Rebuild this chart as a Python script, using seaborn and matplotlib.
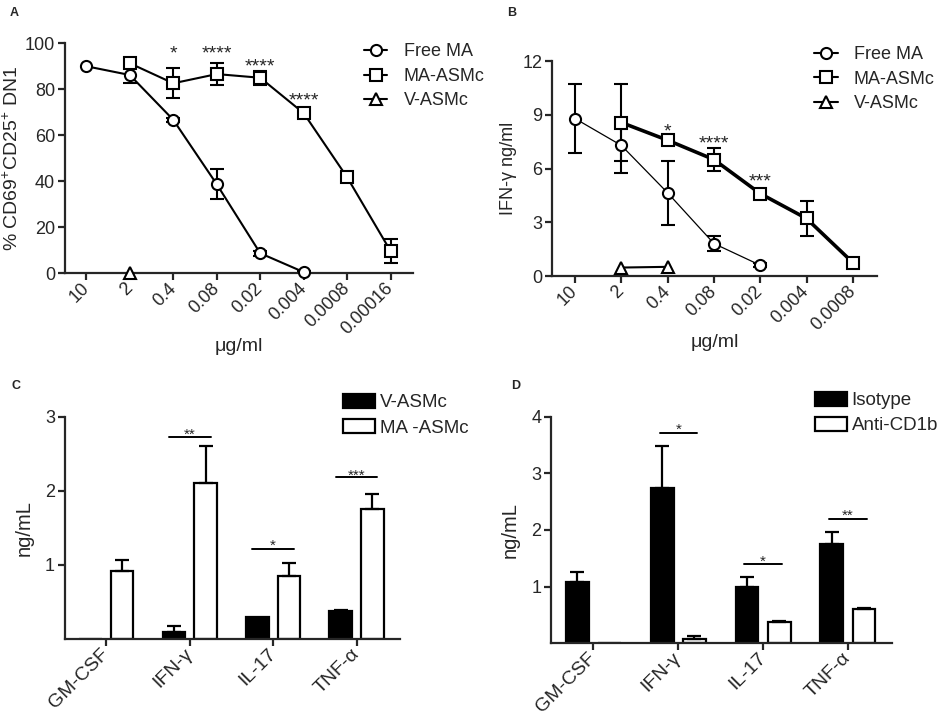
import numpy as np
import pandas as pd
import matplotlib
matplotlib.use("Agg")
import matplotlib.pyplot as plt
import seaborn as sns
from matplotlib.lines import Line2D
from matplotlib.patches import Patch

# ---- Panel A: % CD69+CD25+ DN1 vs dose ----
doses_a = ["10", "2", "0.4", "0.08", "0.02", "0.004", "0.0008", "0.00016"]
free_ma_a = [90.0, 86.2, 66.7, 38.7, 8.7, 0.5, np.nan, np.nan]
free_ma_a_err = [0, 3.5, 1.0, 6.5, 1.0, 0.5, 0, 0]
ma_asmc_a = [np.nan, 91.3, 82.6, 86.6, 85.0, 69.6, 41.7, 9.6]
ma_asmc_a_err = [0, 2.0, 6.5, 4.7, 3.0, 1.0, 0, 5.2]
v_asmc_a = [np.nan, 0.0, np.nan, np.nan, np.nan, np.nan, np.nan, np.nan]
stars_a = ["", "", "*", "****", "****", "****", "", ""]
star_y_a = [np.nan, np.nan, 98.5, 98.5, 93.0, 78.0, np.nan, np.nan]

# ---- Panel B: IFN-g vs dose ----
doses_b = ["10", "2", "0.4", "0.08", "0.02", "0.004", "0.0008"]
free_ma_b = [8.8, 7.3, 4.65, 1.82, 0.61, np.nan, np.nan]
free_ma_b_err = [1.95, 1.55, 1.77, 0.4, 0.12, 0, 0]
ma_asmc_b = [np.nan, 8.58, 7.59, 6.51, 4.61, 3.22, 0.76]
ma_asmc_b_err = [0, 2.15, 0.15, 0.62, 0.1, 0.98, 0.1]
v_asmc_b = [np.nan, 0.48, 0.52, np.nan, np.nan, np.nan, np.nan]
stars_b = ["", "", "*", "****", "***", "", ""]
star_y_b = [np.nan, np.nan, 8.43, 7.81, 5.64, np.nan, np.nan]

# ---- Panels C and D: cytokines ----
cytokines = ["GM-CSF", "IFN-γ", "IL-17", "TNF-α"]
v_asmc_c = [0.0, 0.09, 0.30, 0.37]
v_asmc_c_err = [0, 0.08, 0, 0.02]
ma_asmc_c = [0.91, 2.10, 0.85, 1.75]
ma_asmc_c_err = [0.15, 0.51, 0.18, 0.20]
sig_c = ["", "**", "*", "***"]
sig_line_c = [np.nan, 2.72, 1.21, 2.18]
sig_star_c = [np.nan, 2.83, 1.32, 2.27]

isotype_d = [1.08, 2.74, 1.00, 1.76]
isotype_d_err = [0.17, 0.74, 0.16, 0.20]
anti_cd1b_d = [0.0, 0.07, 0.38, 0.60]
anti_cd1b_d_err = [0, 0.05, 0.01, 0.02]
sig_d = ["", "*", "*", "**"]
sig_line_d = [np.nan, 3.72, 1.39, 2.20]
sig_star_d = [np.nan, 3.86, 1.53, 2.34]

sns.set_style("ticks")
plt.rcParams["font.family"] = ["Liberation Sans", "DejaVu Sans"]
plt.rcParams["mathtext.fontset"] = "custom"
plt.rcParams["mathtext.rm"] = "Liberation Sans"
plt.rcParams["font.size"] = 13

LW = 1.6
fig = plt.figure(figsize=(9.5, 7.21), dpi=100)


def style_axes(ax, xsize=13):
    sns.despine(ax=ax)
    for s in ["left", "bottom"]:
        ax.spines[s].set_linewidth(LW)
    ax.tick_params(direction="out", length=5, width=LW, labelsize=13, pad=2)
    ax.tick_params(axis="x", labelsize=xsize, pad=4)


def put_stars(ax, xs, ys, labels, fs):
    for x, y, s in zip(xs, ys, labels):
        if s:
            ax.annotate(s, xy=(x, y), xytext=(0, -0.6 * fs), textcoords="offset points",
                        ha="center", va="baseline", fontsize=fs)


def line_panel(ax, doses, series, widths, stars, star_y):
    pos = np.arange(len(doses))
    for name, (vals, errs, marker) in series.items():
        vals = np.array(vals, dtype=float)
        errs = np.array(errs, dtype=float)
        ok = ~np.isnan(vals)
        sns.lineplot(x=pos[ok], y=vals[ok], ax=ax, color="black", lw=widths[name],
                     marker=marker, markersize=8, markerfacecolor="white",
                     markeredgecolor="black", markeredgewidth=1.5, label=name,
                     clip_on=False, zorder=3)
        e = ok & (errs > 0)
        if e.any():
            ax.errorbar(pos[e], vals[e], yerr=errs[e], fmt="none", ecolor="black",
                        elinewidth=1.5, capsize=5, capthick=1.5, zorder=2)
    ax.set_xticks(pos)
    ax.set_xticklabels(doses, rotation=45, ha="right", va="center", rotation_mode="anchor")
    ax.set_xlim(-0.5, len(doses) - 0.48)
    ax.set_xlabel("μg/ml", fontsize=14, labelpad=0)
    put_stars(ax, pos, star_y, stars, 14)
    style_axes(ax)


def legend_lines(ax, names, markers, widths, anchor):
    handles = [Line2D([], [], color="black", lw=widths[n], marker=m, markersize=8,
                      markerfacecolor="white", markeredgecolor="black", markeredgewidth=1.5)
               for n, m in zip(names, markers)]
    ax.legend(handles, names, loc="upper left", bbox_to_anchor=anchor,
              bbox_transform=fig.transFigure, frameon=False, borderaxespad=0,
              borderpad=0, handlelength=1.3, handletextpad=0.9, labelspacing=0.42,
              fontsize=13)


# Panel A
ax_a = fig.add_axes([0.068, 0.621, 0.367, 0.319])
w_a = {"Free MA": 1.5, "MA-ASMc": 1.5, "V-ASMc": 1.5}
line_panel(ax_a, doses_a,
           {"Free MA": (free_ma_a, free_ma_a_err, "o"),
            "MA-ASMc": (ma_asmc_a, ma_asmc_a_err, "s"),
            "V-ASMc": (v_asmc_a, [0] * len(doses_a), "^")},
           w_a, stars_a, star_y_a)
ax_a.set_ylim(0, 100)
ax_a.set_yticks([0, 20, 40, 60, 80, 100])
ax_a.set_ylabel("% CD69$^{+}$CD25$^{+}$ DN1", fontsize=14, labelpad=2)
legend_lines(ax_a, ["Free MA", "MA-ASMc", "V-ASMc"], ["o", "s", "^"], w_a, (0.383, 0.940))

# Panel B
ax_b = fig.add_axes([0.581, 0.617, 0.342, 0.298])
w_b = {"Free MA": 0.9, "MA-ASMc": 2.6, "V-ASMc": 1.5}
line_panel(ax_b, doses_b,
           {"Free MA": (free_ma_b, free_ma_b_err, "o"),
            "MA-ASMc": (ma_asmc_b, ma_asmc_b_err, "s"),
            "V-ASMc": (v_asmc_b, [0] * len(doses_b), "^")},
           w_b, stars_b, star_y_b)
ax_b.set_ylim(0, 12)
ax_b.set_yticks([0, 3, 6, 9, 12])
ax_b.set_ylabel("IFN-γ ng/ml", fontsize=13, labelpad=4)
legend_lines(ax_b, ["Free MA", "MA-ASMc", "V-ASMc"], ["o", "s", "^"],
             {"Free MA": 1.5, "MA-ASMc": 1.5, "V-ASMc": 1.5}, (0.857, 0.936))


def bar_panel(ax, groups, vals0, err0, vals1, err1, sig, sig_line, sig_star, half):
    df = pd.DataFrame({"cytokine": cytokines * 2,
                       "group": [groups[0]] * len(cytokines) + [groups[1]] * len(cytokines),
                       "value": list(vals0) + list(vals1)})
    sns.barplot(data=df, x="cytokine", y="value", hue="group", hue_order=groups,
                palette={groups[0]: "black", groups[1]: "white"}, edgecolor="black",
                linewidth=LW, width=0.76, gap=0.29, errorbar=None, legend=False, ax=ax)
    bars = sorted(ax.patches, key=lambda p: p.get_x())
    centers = [b.get_x() + b.get_width() / 2 for b in bars]
    c0, c1 = centers[0::2], centers[1::2]
    for cs, vs, es in [(c0, vals0, err0), (c1, vals1, err1)]:
        for c, v, e in zip(cs, vs, es):
            if e > 0:
                ax.errorbar([c], [v], yerr=[[0], [e]], fmt="none", ecolor="black",
                            elinewidth=LW, capsize=5, capthick=LW, zorder=1)
    for i, (s, ly) in enumerate(zip(sig, sig_line)):
        if s:
            ax.plot([i - half, i + half], [ly, ly], color="black", lw=1.4)
    put_stars(ax, range(len(cytokines)), sig_star, sig, 11)
    ax.set_xlim(-0.5, len(cytokines) - 0.48)
    ax.set_xticks(range(len(cytokines)))
    ax.set_xticklabels(cytokines, rotation=45, ha="right", va="center", rotation_mode="anchor")
    ax.set_xlabel("")
    ax.set_ylabel("ng/mL", fontsize=14.5, labelpad=8)
    style_axes(ax, xsize=14)
    handles = [Patch(facecolor="black", edgecolor="black", lw=LW),
               Patch(facecolor="white", edgecolor="black", lw=LW)]
    return handles


# Panel C
ax_c = fig.add_axes([0.068, 0.114, 0.353, 0.308])
h = bar_panel(ax_c, ["V-ASMc", "MA -ASMc"], v_asmc_c, v_asmc_c_err, ma_asmc_c,
              ma_asmc_c_err, sig_c, sig_line_c, sig_star_c, 0.25)
ax_c.set_ylim(0, 3)
ax_c.set_yticks([1, 2, 3])
ax_c.legend(h, ["V-ASMc", "MA -ASMc"], loc="upper left", bbox_to_anchor=(0.361, 0.454),
            bbox_transform=fig.transFigure, frameon=False, borderaxespad=0, borderpad=0,
            handlelength=1.7, handleheight=0.8, handletextpad=0.25, labelspacing=0.4,
            fontsize=13.5)

# Panel D
ax_d = fig.add_axes([0.58, 0.108, 0.359, 0.314])
h = bar_panel(ax_d, ["Isotype", "Anti-CD1b"], isotype_d, isotype_d_err, anti_cd1b_d,
              anti_cd1b_d_err, sig_d, sig_line_d, sig_star_d, 0.22)
ax_d.set_ylim(0, 4)
ax_d.set_yticks([1, 2, 3, 4])
ax_d.legend(h, ["Isotype", "Anti-CD1b"], loc="upper left", bbox_to_anchor=(0.858, 0.457),
            bbox_transform=fig.transFigure, frameon=False, borderaxespad=0, borderpad=0,
            handlelength=1.7, handleheight=0.8, handletextpad=0.25, labelspacing=0.4,
            fontsize=13.5)

# panel letters
for lbl, x, y in [("A", 0.010, 0.978), ("B", 0.534, 0.978), ("C", 0.012, 0.461), ("D", 0.538, 0.461)]:
    fig.text(x, y, lbl, fontsize=9, fontweight="bold", va="baseline")

fig.savefig("out.png", dpi=100)
